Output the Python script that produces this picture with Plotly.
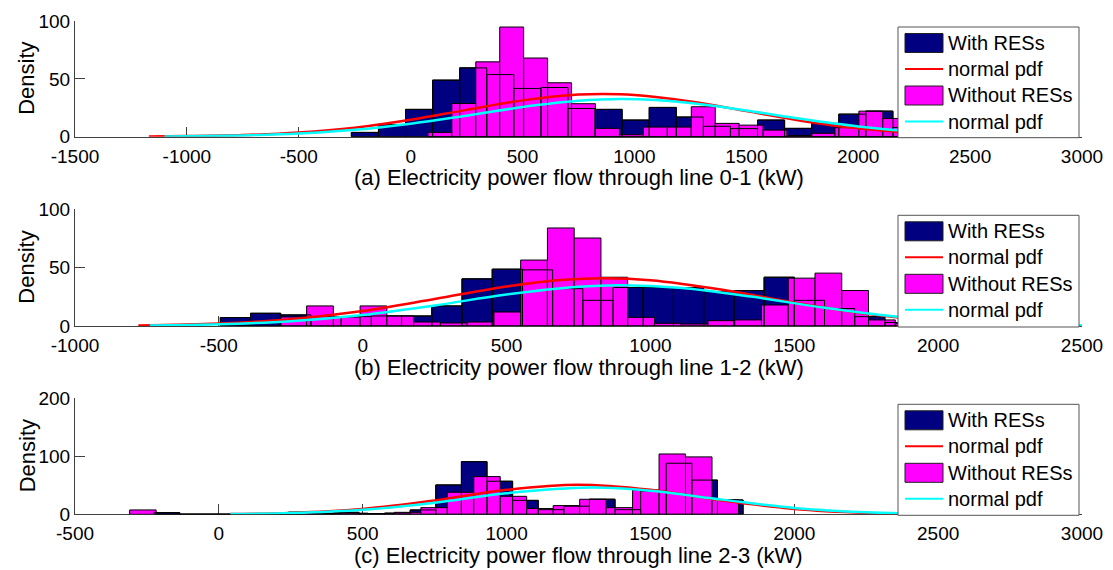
import plotly.graph_objects as go

# ------------------------------------------------------------------
# Data
# ------------------------------------------------------------------
# (a) line 0-1
A_WITH_EDGES = [-265, -144, -23, 98, 219, 340, 461, 582, 703, 824, 945, 1066, 1187,
                1308, 1429, 1550, 1671, 1792, 1913, 2034, 2155, 2276, 2397]
A_WITH_COUNTS = [3.7, 10.6, 23.6, 48.9, 59.5, 53.7, 41.7, 42.5, 24.4, 23.6, 14.4,
                 25.3, 17.0, 9.0, 7.0, 14.4, 7.2, 11.5, 19.5, 22.1, 8.0, 4.0]
A_WITHOUT_EDGES = [77, 184, 291, 398, 505, 612, 719, 826, 933, 1040, 1147, 1254,
                   1361, 1468, 1575, 1682, 1789, 1896, 2003, 2110, 2217, 2324, 2431]
A_WITHOUT_COUNTS = [3.7, 28.7, 64.7, 94.8, 68.0, 46.6, 28.5, 7.2, 1.7, 8.3, 8.3,
                    25.9, 11.5, 10.0, 5.7, 1.0, 2.9, 7.8, 22.1, 15.8, 6.0, 3.0]
A_RED_X = [-1170, -1000, -750, -500, -250, 0, 250, 500, 750, 860, 1000, 1250,
           1500, 1750, 2000, 2250, 2500, 2750]
A_RED_Y = [0.2, 0.5, 1.4, 3.6, 7.8, 14.6, 23.2, 31.4, 36.4, 37.0, 36.1, 30.5,
           22.1, 13.6, 7.2, 3.2, 1.25, 0.4]
A_CYAN_X = [-1100, -1000, -750, -500, -250, 0, 250, 500, 750, 950, 1250, 1500,
            1750, 2000, 2250, 2500, 2800]
A_CYAN_Y = [0.2, 0.36, 1.1, 2.7, 5.9, 11.2, 18.2, 25.6, 31.0, 32.5, 29.2, 22.7,
            15.2, 8.8, 4.4, 1.9, 0.6]
A_XTICKS = [-1500, -1000, -500, 0, 500, 1000, 1500, 2000, 2500, 3000]
A_XLABELS = ["-1500", "-1000", "-500", "0", "500", "1000", "1500", "2000", "2500", "3000"]
A_YTICKS = [0, 50, 100]
A_YLABELS = ["0", "50", "100"]
A_TITLE = "(a) Electricity power flow through line 0-1 (kW)"

# (b) line 1-2
B_WITH_EDGES = [-495, -390, -285, -180, -75, 30, 135, 240, 345, 450, 555, 660, 765,
                870, 975, 1080, 1185, 1290, 1395, 1500, 1605, 1710, 1815, 1920]
B_WITH_COUNTS = [7.2, 10.9, 9.5, 8.0, 8.0, 8.6, 8.6, 17.2, 40.4, 48.7, 48.1, 32.0,
                 22.0, 33.0, 33.0, 33.0, 29.5, 30.4, 41.8, 22.0, 15.0, 8.0, 3.0]
B_WITHOUT_EDGES = [-288, -195, -102, -9, 84, 177, 270, 363, 456, 549, 642, 735, 828,
                   921, 1014, 1107, 1200, 1293, 1386, 1479, 1572, 1665, 1758, 1851, 1944]
B_WITHOUT_COUNTS = [7.7, 17.2, 7.7, 17.2, 8.6, 3.4, 2.6, 3.4, 12.0, 56.5, 84.0, 75.4,
                    41.8, 7.4, 2.3, 1.7, 4.6, 5.2, 18.0, 41.0, 45.3, 30.4, 5.2, 2.0]
B_RED_X = [-780, -500, -250, 0, 250, 500, 700, 840, 1000, 1250, 1500, 1750, 2000, 2250, 2480]
B_RED_Y = [0.5, 2.1, 5.8, 12.8, 23.1, 33.9, 39.7, 41.0, 39.3, 31.1, 20.0, 10.4, 4.4, 1.5, 0.5]
B_CYAN_X = [-740, -500, -250, 0, 250, 500, 750, 900, 1100, 1350, 1600, 1850, 2100, 2300, 2500]
B_CYAN_Y = [0.45, 1.45, 4.1, 9.4, 17.6, 27.0, 33.7, 35.0, 32.8, 25.2, 15.8, 8.1, 3.4, 1.45, 0.55]
B_XTICKS = [-1000, -500, 0, 500, 1000, 1500, 2000, 2500]
B_XLABELS = ["-1000", "-500", "0", "500", "1000", "1500", "2000", "2500"]
B_YTICKS = [0, 50, 100]
B_YLABELS = ["0", "50", "100"]
B_TITLE = "(b) Electricity power flow through line 1-2 (kW)"

# (c) line 2-3
C_WITH_EDGES = [-225, -136, -47, 42, 131, 220, 309, 398, 487, 576, 665, 754, 843,
                932, 1021, 1110, 1199, 1288, 1377, 1466, 1555, 1644, 1733, 1822]
C_WITH_COUNTS = [2.9, 0, 0, 0, 0, 3.0, 1.0, 3.4, 1.0, 2.0, 7.5, 50.6, 90.8, 57.0,
                 24.0, 8.0, 14.0, 26.0, 8.0, 40.0, 88.0, 59.0, 24.7]
C_WITHOUT_EDGES = [-310, -218, -126, -34, 58, 150, 242, 334, 426, 518, 610, 702, 794,
                   886, 978, 1070, 1162, 1254, 1346, 1438, 1530, 1622, 1714, 1806]
C_WITHOUT_COUNTS = [7.5, 0, 0, 0, 0, 0, 4.0, 1.5, 2.0, 0.5, 3.4, 11.5, 38.0, 65.0,
                    31.0, 10.0, 15.0, 25.9, 11.5, 42.0, 104.0, 99.0, 25.0]
C_RED_X = [40, 250, 500, 750, 1000, 1250, 1500, 1750, 2000, 2250, 2460]
C_RED_Y = [0.6, 2.4, 9.2, 23.8, 42.2, 51.0, 42.2, 23.8, 9.2, 2.4, 0.6]
C_CYAN_X = [40, 250, 500, 750, 1000, 1290, 1500, 1750, 2000, 2250, 2540]
C_CYAN_Y = [0.55, 2.1, 7.8, 20.1, 36.3, 46.0, 40.6, 25.3, 11.0, 3.4, 0.55]
C_XTICKS = [-500, 0, 500, 1000, 1500, 2000, 2500, 3000]
C_XLABELS = ["-500", "0", "500", "1000", "1500", "2000", "2500", "3000"]
C_YTICKS = [0, 100, 200]
C_YLABELS = ["0", "100", "200"]
C_TITLE = "(c) Electricity power flow through line 2-3 (kW)"

Y_TITLE = "Density"
LEGEND_LABELS = ["With RESs", "normal pdf", "Without RESs", "normal pdf"]

# ------------------------------------------------------------------
# Styling / layout constants
# ------------------------------------------------------------------
W, H = 1113, 570
FONT = "Liberation Sans, Arial, Helvetica, sans-serif"
NAVY, MAGENTA, RED, CYAN = "#000080", "#FF00FF", "#FF0000", "#00FFFF"
AXIS_COLOR = "#404040"
X_LEFT_PX, X_RIGHT_PX = 75, 1082


def px(xp):
    return xp / W


def py(yp):
    return 1 - yp / H


panels = [
    dict(we=A_WITH_EDGES, wc=A_WITH_COUNTS, oe=A_WITHOUT_EDGES, oc=A_WITHOUT_COUNTS,
         rx=A_RED_X, ry=A_RED_Y, cx=A_CYAN_X, cy=A_CYAN_Y,
         xt=A_XTICKS, xl=A_XLABELS, yt=A_YTICKS, yl=A_YLABELS, title=A_TITLE,
         top=21.0, bottom=136.7),
    dict(we=B_WITH_EDGES, wc=B_WITH_COUNTS, oe=B_WITHOUT_EDGES, oc=B_WITHOUT_COUNTS,
         rx=B_RED_X, ry=B_RED_Y, cx=B_CYAN_X, cy=B_CYAN_Y,
         xt=B_XTICKS, xl=B_XLABELS, yt=B_YTICKS, yl=B_YLABELS, title=B_TITLE,
         top=209.3, bottom=326.0),
    dict(we=C_WITH_EDGES, wc=C_WITH_COUNTS, oe=C_WITHOUT_EDGES, oc=C_WITHOUT_COUNTS,
         rx=C_RED_X, ry=C_RED_Y, cx=C_CYAN_X, cy=C_CYAN_Y,
         xt=C_XTICKS, xl=C_XLABELS, yt=C_YTICKS, yl=C_YLABELS, title=C_TITLE,
         top=398.3, bottom=514.3),
]


def bar_geometry(edges, counts):
    centers = [(edges[i] + edges[i + 1]) / 2 for i in range(len(counts))]
    widths = [edges[i + 1] - edges[i] for i in range(len(counts))]
    return centers, widths


fig = go.Figure()
layout = dict(
    width=W, height=H,
    margin=dict(l=0, r=0, t=0, b=0),
    paper_bgcolor="white", plot_bgcolor="white",
    barmode="overlay", showlegend=False,
    font=dict(family=FONT, color="black"),
)
shapes = []
annotations = []

for i, p in enumerate(panels):
    n = "" if i == 0 else str(i + 1)
    xa, ya = "x" + n, "y" + n

    wx, ww = bar_geometry(p["we"], p["wc"])
    ox, ow = bar_geometry(p["oe"], p["oc"])

    fig.add_trace(go.Bar(x=wx, y=p["wc"], width=ww, xaxis=xa, yaxis=ya,
                         marker=dict(color=NAVY, line=dict(color="black", width=1)),
                         name=LEGEND_LABELS[0]))
    fig.add_trace(go.Bar(x=ox, y=p["oc"], width=ow, xaxis=xa, yaxis=ya,
                         marker=dict(color=MAGENTA, line=dict(color="black", width=1)),
                         name=LEGEND_LABELS[2]))
    # edges of the first histogram remain visible on top
    fig.add_trace(go.Bar(x=wx, y=p["wc"], width=ww, xaxis=xa, yaxis=ya,
                         marker=dict(color="rgba(0,0,0,0)", line=dict(color="black", width=1)),
                         hoverinfo="skip"))
    fig.add_trace(go.Scatter(x=p["rx"], y=p["ry"], xaxis=xa, yaxis=ya, mode="lines",
                             line=dict(color=RED, width=2.5, shape="spline"),
                             name=LEGEND_LABELS[1]))
    fig.add_trace(go.Scatter(x=p["cx"], y=p["cy"], xaxis=xa, yaxis=ya, mode="lines",
                             line=dict(color=CYAN, width=2.5, shape="spline"),
                             name=LEGEND_LABELS[3]))

    layout["xaxis" + n] = dict(
        domain=[px(X_LEFT_PX), px(X_RIGHT_PX)], anchor=ya,
        range=[p["xt"][0], p["xt"][-1]],
        tickmode="array", tickvals=p["xt"], ticktext=p["xl"],
        ticks="inside", ticklen=10, tickwidth=1, tickcolor=AXIS_COLOR,
        showline=True, linecolor=AXIS_COLOR, linewidth=1, mirror=False,
        showgrid=False, zeroline=False, layer="below traces",
        tickfont=dict(size=19, family=FONT, color="black"),
        ticklabelstandoff=2,
        automargin=False, fixedrange=True,
    )
    layout["yaxis" + n] = dict(
        domain=[py(p["bottom"]), py(p["top"])], anchor=xa,
        range=[p["yt"][0], p["yt"][-1]],
        tickmode="array", tickvals=p["yt"], ticktext=p["yl"],
        ticks="inside", ticklen=10, tickwidth=1, tickcolor=AXIS_COLOR,
        showline=True, linecolor=AXIS_COLOR, linewidth=1, mirror=False,
        showgrid=False, zeroline=False, layer="below traces",
        tickfont=dict(size=19, family=FONT, color="black"),
        automargin=False, fixedrange=True,
    )

    # axis titles
    annotations.append(dict(text=p["title"], xref="paper", yref="paper",
                            x=px((X_LEFT_PX + X_RIGHT_PX) / 2), y=py(p["bottom"] + 41),
                            xanchor="center", yanchor="middle", showarrow=False,
                            font=dict(size=22, family=FONT, color="black")))
    annotations.append(dict(text=Y_TITLE, xref="paper", yref="paper",
                            x=px(27), y=py((p["top"] + p["bottom"]) / 2),
                            xanchor="center", yanchor="middle", showarrow=False,
                            textangle=-90,
                            font=dict(size=22, family=FONT, color="black")))

    # legend box (drawn on top of the data, as in the original)
    box_top = p["top"] + 6
    box_bot = p["bottom"] + 1
    shapes.append(dict(type="rect", xref="paper", yref="paper", layer="above",
                       x0=px(898), x1=px(1079), y0=py(box_bot), y1=py(box_top),
                       fillcolor="white", line=dict(color="#555555", width=1)))
    row_off = [16, 42, 68.5, 94.5]
    kinds = [("rect", NAVY), ("line", RED), ("rect", MAGENTA), ("line", CYAN)]
    for (kind, col), off, lab in zip(kinds, row_off, LEGEND_LABELS):
        yc = box_top + off
        if kind == "rect":
            shapes.append(dict(type="rect", xref="paper", yref="paper", layer="above",
                               x0=px(905), x1=px(943), y0=py(yc + 9.5), y1=py(yc - 9.5),
                               fillcolor=col, line=dict(color="#202020", width=1)))
        else:
            shapes.append(dict(type="line", xref="paper", yref="paper", layer="above",
                               x0=px(905), x1=px(943), y0=py(yc), y1=py(yc),
                               line=dict(color=col, width=2)))
        annotations.append(dict(text=lab, xref="paper", yref="paper",
                                x=px(946), y=py(yc), xanchor="left", yanchor="middle",
                                showarrow=False,
                                font=dict(size=20, family=FONT, color="black")))

layout["shapes"] = shapes
layout["annotations"] = annotations
fig.update_layout(**layout)

# the page body must not add its default 8px margin around the 1113x570 figure
fig.write_html("out.html",
               config={"displayModeBar": False, "staticPlot": False},
               post_script="document.body.style.margin='0';document.body.style.overflow='hidden';")
